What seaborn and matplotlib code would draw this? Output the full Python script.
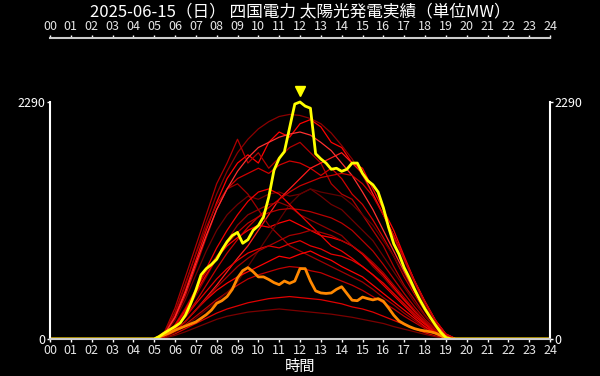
import numpy as np
import pandas as pd
import seaborn as sns
from matplotlib import pyplot as plt
from matplotlib import transforms

TITLE = "2025-06-15（日） 四国電力 太陽光発電実績（単位MW）"
Y_MAX_LABEL = 2290

# 15-minute grid for today / yesterday, 30-minute grid for the other days
t15 = np.arange(5.0, 19.26, 0.25)
t30 = np.arange(5.0, 19.51, 0.5)

today = [0, 25, 60, 90, 120, 155, 230, 340, 470, 620, 680, 720, 770, 860, 940, 1000,
         1030, 925, 960, 1050, 1095, 1180, 1370, 1630, 1745, 1810, 2040, 2270, 2290, 2250,
         2230, 1790, 1740, 1700, 1640, 1650, 1620, 1640, 1700, 1700, 1600, 1530, 1490, 1420,
         1270, 1080, 920, 820, 690, 590, 480, 380, 290, 210, 135, 65, 15, 0]

yesterday = [0, 20, 40, 60, 85, 105, 125, 145, 165, 200, 235, 280, 345, 370, 410, 480,
             590, 660, 690, 650, 600, 600, 575, 545, 525, 560, 538, 560, 680, 680,
             560, 465, 445, 440, 445, 480, 505, 440, 375, 370, 405, 390, 378, 390,
             365, 300, 230, 175, 145, 120, 100, 87, 78, 70, 57, 35, 5, 0]

other_days = [
    [0, 60, 250, 520, 830, 1130, 1400, 1620, 1800, 1930, 2030, 2100, 2150, 2170, 2160, 2130, 2080, 1990, 1870, 1740, 1580, 1400, 1200, 980, 760, 540, 330, 160, 40, 0],
    [0, 50, 220, 470, 760, 1050, 1320, 1550, 1700, 1780, 1700, 1900, 2000, 1950, 2080, 2120, 2050, 1900, 1850, 1700, 1650, 1450, 1250, 1050, 800, 560, 360, 180, 50, 0],
    [0, 70, 300, 600, 900, 1200, 1500, 1700, 1930, 1700, 1800, 1650, 1750, 1850, 1900, 1800, 1700, 1500, 1400, 1350, 1200, 1050, 900, 700, 520, 380, 230, 110, 25, 0],
    [0, 45, 200, 420, 700, 980, 1250, 1450, 1550, 1600, 1650, 1600, 1680, 1720, 1700, 1650, 1580, 1650, 1550, 1400, 1300, 1150, 980, 800, 600, 430, 270, 130, 30, 0],
    [0, 40, 180, 380, 620, 850, 1050, 1200, 1300, 1380, 1350, 1400, 1420, 1380, 1400, 1450, 1380, 1300, 1250, 1150, 1050, 950, 800, 650, 500, 350, 220, 100, 20, 0],
    [0, 20, 80, 170, 280, 400, 520, 650, 780, 900, 1050, 1200, 1350, 1450, 1550, 1650, 1700, 1750, 1800, 1700, 1600, 1400, 1200, 1000, 780, 560, 360, 180, 45, 0],
    [0, 20, 70, 140, 220, 300, 380, 450, 520, 580, 620, 650, 680, 700, 690, 660, 640, 600, 560, 520, 470, 410, 350, 290, 220, 160, 100, 50, 12, 0],
    [0, 15, 50, 100, 150, 200, 250, 290, 320, 350, 370, 390, 400, 410, 400, 390, 380, 360, 340, 310, 290, 260, 220, 180, 140, 100, 60, 30, 8, 0],
    [0, 30, 120, 260, 420, 600, 780, 950, 1100, 1200, 1250, 1300, 1320, 1280, 1200, 1150, 1100, 1050, 1000, 900, 820, 700, 600, 480, 370, 260, 160, 70, 15, 0],
    [0, 30, 130, 280, 450, 620, 780, 900, 980, 1050, 1100, 1080, 1120, 1150, 1100, 1050, 1000, 980, 950, 900, 820, 720, 620, 500, 380, 270, 170, 80, 20, 0],
    [0, 60, 260, 540, 820, 1080, 1300, 1450, 1500, 1400, 1250, 1100, 1000, 900, 850, 800, 750, 700, 650, 600, 550, 480, 400, 330, 250, 180, 110, 50, 12, 0],
    [0, 15, 60, 130, 200, 280, 360, 450, 550, 700, 850, 1000, 1150, 1300, 1400, 1450, 1420, 1400, 1380, 1300, 1200, 1100, 950, 800, 620, 450, 280, 130, 30, 0],
    [0, 25, 100, 210, 340, 460, 580, 680, 760, 830, 870, 900, 880, 920, 950, 900, 870, 820, 800, 760, 700, 620, 540, 440, 340, 240, 150, 70, 15, 0],
    [0, 50, 210, 450, 730, 1000, 1250, 1450, 1620, 1750, 1850, 1900, 1950, 1980, 2000, 1970, 1900, 1820, 1700, 1580, 1420, 1250, 1050, 850, 650, 460, 290, 140, 35, 0],
    [0, 35, 140, 300, 480, 650, 800, 920, 1030, 1120, 1180, 1220, 1250, 1260, 1250, 1230, 1200, 1170, 1120, 1050, 950, 850, 720, 580, 440, 310, 190, 90, 20, 0],
    [0, 10, 35, 70, 110, 150, 190, 220, 240, 260, 270, 280, 290, 280, 270, 260, 250, 240, 225, 210, 190, 170, 150, 120, 95, 70, 45, 22, 5, 0],
    [0, 30, 130, 280, 470, 680, 880, 1050, 1200, 1330, 1420, 1450, 1400, 1300, 1200, 1100, 1000, 900, 850, 780, 700, 620, 520, 420, 320, 220, 140, 60, 12, 0],
    [0, 25, 100, 220, 360, 520, 680, 830, 960, 1080, 1180, 1270, 1350, 1420, 1480, 1520, 1560, 1580, 1600, 1580, 1500, 1380, 1200, 1000, 780, 560, 360, 180, 45, 0],
    [0, 20, 80, 170, 280, 380, 470, 540, 600, 650, 700, 750, 800, 780, 820, 850, 800, 760, 700, 650, 600, 520, 440, 360, 280, 200, 120, 55, 12, 0],
    [0, 20, 80, 170, 280, 390, 500, 600, 700, 780, 850, 900, 950, 1000, 1020, 1050, 1030, 1000, 950, 900, 830, 740, 640, 520, 400, 280, 170, 80, 18, 0],
]

red_colors = ["#8b0000", "#ff0000", "#b00000", "#d00000", "#700000", "#ff1a1a", "#c00000",
              "#e00000", "#900000", "#ff0000", "#a00000", "#600000", "#e60000", "#ff3030",
              "#b80000", "#7a0000", "#f00000", "#c80000", "#ff0000", "#a80000"]


def with_night(times, values):
    # zero output at midnight on both ends of the day
    return np.r_[0.0, times, 24.0], np.r_[0, values, 0]


frames = []
for i, vals in enumerate(other_days):
    h, v = with_night(t30, vals)
    frames.append(pd.DataFrame({"hour": h, "mw": v, "day": i}))
red_df = pd.concat(frames, ignore_index=True)

h_y, v_y = with_night(t15, yesterday)
h_t, v_t = with_night(t15, today)

sns.set_style("dark", rc={"axes.facecolor": "black", "figure.facecolor": "black"})
plt.rcParams["font.family"] = ["Noto Sans CJK JP", "DejaVu Sans"]

fig = plt.figure(figsize=(6, 3.76), dpi=100)
ax = fig.add_axes([50 / 600, 37 / 376, 500 / 600, 301 / 376])

sns.lineplot(data=red_df, x="hour", y="mw", hue="day", palette=red_colors,
             linewidth=0.9, legend=False, sort=False, ax=ax)
sns.lineplot(x=h_y, y=v_y, color="#ff8800", linewidth=2, sort=False, ax=ax)
sns.lineplot(x=h_t, y=v_t, color="#ffff00", linewidth=2, sort=False, ax=ax)

# peak marker above today's maximum
k = int(np.argmax(v_t))
off = transforms.offset_copy(ax.transData, fig=fig, x=0, y=8, units="points")
ax.plot(h_t[k], v_t[k], marker="v", color="#ffff00", markersize=7, transform=off)

ax.set_xlim(0, 24)
ax.set_ylim(0, Y_MAX_LABEL * 1.27)
ax.grid(False)

hours = list(range(25))
ax.set_xticks(hours)
ax.set_xticklabels([f"{h:02d}" for h in hours])
ax.set_yticks([0, Y_MAX_LABEL])
ax.tick_params(axis="x", which="both", top=True, labeltop=True, bottom=True,
               labelbottom=True, colors="white", labelsize=9, length=2.5, width=1, pad=1)
ax.tick_params(axis="y", left=True, right=True, labelleft=True, labelright=True,
               colors="white", labelsize=9, length=2, width=1, pad=1)
for lab in ax.get_xticklabels():
    lab.set_color("#e6e6e6")

for side in ["left", "right"]:
    ax.spines[side].set_visible(True)
    ax.spines[side].set_color("white")
    ax.spines[side].set_linewidth(1.5)
    ax.spines[side].set_bounds(0, Y_MAX_LABEL)
for side in ["top", "bottom"]:
    ax.spines[side].set_visible(True)
    ax.spines[side].set_color("#cccccc")
    ax.spines[side].set_linewidth(1.5)

ax.set_xlabel("時間", color="white", fontsize=11, labelpad=1)
ax.set_ylabel("")
fig.suptitle(TITLE, color="white", fontsize=12, y=1 - 12 / 376, va="center")

fig.savefig("out.png", dpi=100, facecolor="black")
